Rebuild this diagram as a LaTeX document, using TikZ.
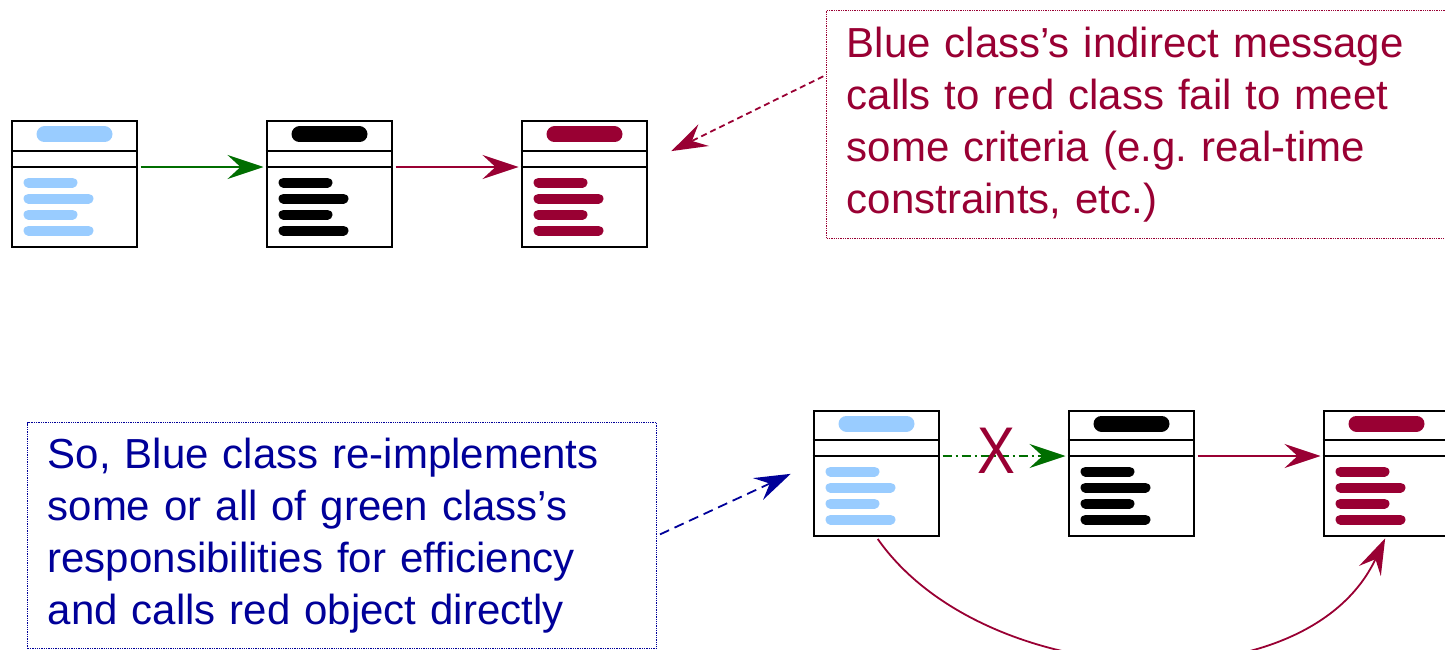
\documentclass[tikz,border=0pt]{standalone}
\usepackage{fontspec}
\setmainfont{Liberation Sans}
\usetikzlibrary{arrows.meta, positioning}
\definecolor{umlred}{RGB}{153,0,51}
\definecolor{umlblue}{RGB}{153,204,255}
\definecolor{noteblue}{RGB}{0,0,153}
\definecolor{msggreen}{RGB}{0,110,0}

% compartments and bars of a class box
\newcommand{\classparts}[2]{%
 \draw[line width=2pt] ([yshift=-30pt]#1.north west) -- ([yshift=-30pt]#1.north east);
 \draw[line width=2pt] ([yshift=-46pt]#1.north west) -- ([yshift=-46pt]#1.north east);
 \draw[#2, line width=16pt, line cap=round] ([shift={(34pt,-14pt)}]#1.north west) -- ([shift={(94pt,-14pt)}]#1.north west);
 \foreach \ly/\lx in {62/62,78/78,94/62,110/78}
  \draw[#2, line width=10pt, line cap=round] ([shift={(18pt,-\ly pt)}]#1.north west) -- ([shift={(\lx pt,-\ly pt)}]#1.north west);
}

\begin{document}
\begin{tikzpicture}[x=1pt, y=-1pt, node distance=128pt,
 classbox/.style={draw, line width=2pt, rectangle, minimum width=125pt, minimum height=125pt, inner sep=0pt},
 note/.style={densely dotted, line width=1.3pt, align=left, text width=#1, inner xsep=20pt, inner ysep=0pt, anchor=north west, font=\fontsize{42pt}{52pt}\selectfont},
 msg/.style={line width=1.8pt, -{Stealth[length=36pt,width=24pt,inset=13pt]}, shorten <=3pt, shorten >=2pt}]
 \useasboundingbox (0,0) rectangle (1445,650);

 % top row
 \node[classbox] (blueA) at (74,184) {};
 \node[classbox, right=of blueA] (greenA) {};
 \node[classbox, right=of greenA] (redA) {};
 \classparts{blueA}{umlblue}
 \classparts{greenA}{black}
 \classparts{redA}{umlred}
 \draw[msg, msggreen] ([yshift=17pt]blueA.east) -- ([yshift=17pt]greenA.west);
 \draw[msg, umlred] ([yshift=17pt]greenA.east) -- ([yshift=17pt]redA.west);

 \node[note=600pt, draw=umlred, text=umlred, minimum height=228pt] (redNote) at (826,10) {Blue class’s indirect message\\calls to red class fail to meet\\some criteria (e.g.\ real-time\\constraints, etc.)};
 \draw[msg, umlred, dash pattern=on 6pt off 4pt] ([yshift=-65pt]redNote.north west) -- ([shift={(22pt,32pt)}]redA.east);

 % bottom row
 \node[classbox] (blueB) at (876,473) {};
 \node[classbox, right=of blueB] (greenB) {};
 \node[classbox, right=of greenB] (redB) {};
 \classparts{blueB}{umlblue}
 \classparts{greenB}{black}
 \classparts{redB}{umlred}
 \draw[msg, msggreen, dash pattern=on 9pt off 4pt on 2pt off 4pt] ([yshift=17pt]blueB.east) -- ([yshift=17pt]greenB.west);
 \node[text=umlred, xscale=0.86, font=\fontsize{66pt}{66pt}\selectfont] (noCall) at (996,451) {X};
 \draw[msg, umlred] ([yshift=17pt]greenB.east) -- ([yshift=17pt]redB.west);
 \draw[msg, umlred] (blueB.south) to[out=-55, in=-115, looseness=0.95] (redB.south);

 \node[note=589pt, draw=noteblue, text=noteblue, minimum height=226pt] (blueNote) at (27,422) {So, Blue class re-implements\\some or all of green class’s\\responsibilities for efficiency\\and calls red object directly};
 \draw[msg, noteblue, dash pattern=on 10pt off 6pt] (blueNote.east) -- ([xshift=-20pt]blueB.west);
\end{tikzpicture}
\end{document}
